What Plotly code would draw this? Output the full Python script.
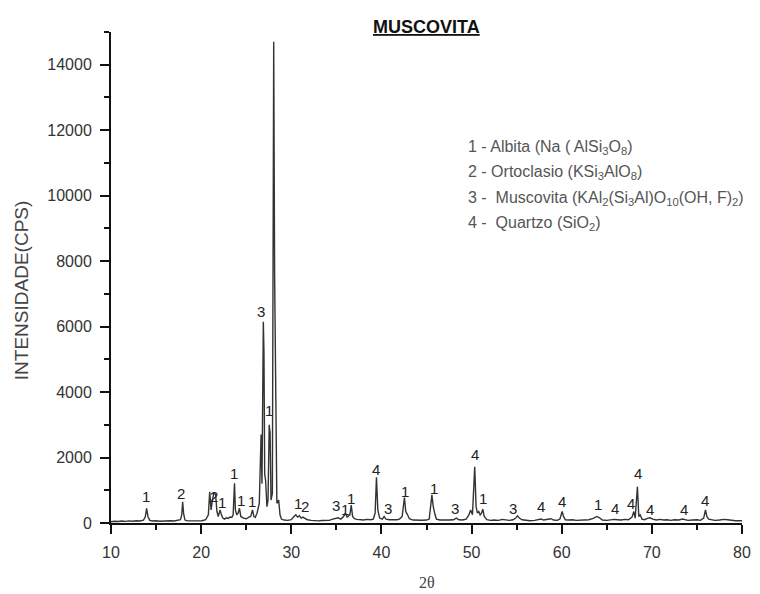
import plotly.graph_objects as go

# XRD pattern (2-theta in degrees, intensity in counts per second)
two_theta = [
    10.0, 10.4, 10.8, 11.2, 11.6, 12.0, 12.4, 12.8, 13.2, 13.6,
    13.8, 13.95, 14.1, 14.3,
    14.6, 15.0, 15.4, 15.8, 16.2, 16.6, 17.0, 17.4, 17.7,
    17.85, 17.95, 18.05, 18.2,
    18.5, 18.9, 19.3, 19.7, 20.1, 20.5, 20.8,
    20.95, 21.1, 21.25, 21.4, 21.6, 21.75, 21.9, 22.1, 22.25, 22.4,
    22.6, 22.8, 23.0, 23.2, 23.4, 23.55, 23.7, 23.8, 23.95, 24.1,
    24.25, 24.4, 24.7, 25.0, 25.3, 25.5, 25.7, 25.85, 26.0,
    26.2, 26.45, 26.65, 26.75, 26.9, 26.97, 27.05, 27.15, 27.3, 27.42,
    27.55, 27.65, 27.75, 27.9, 28.05, 28.15, 28.28, 28.4, 28.6, 28.75,
    28.9, 29.2, 29.6, 30.0, 30.3, 30.5, 30.7, 30.9, 31.1, 31.3,
    31.5, 31.8, 32.2, 32.6, 33.0, 33.4, 33.8, 34.2, 34.6, 34.9,
    35.2, 35.5, 35.8, 36.0, 36.2, 36.5, 36.65, 36.8, 37.0, 37.3,
    37.6, 38.0, 38.4, 38.8, 39.1, 39.3, 39.45, 39.6, 39.8, 40.1,
    40.3, 40.5, 40.9, 41.3, 41.7, 42.0, 42.3, 42.55, 42.7, 42.9,
    43.1, 43.5, 44.0, 44.5, 45.0, 45.3, 45.6, 45.75, 45.95, 46.1,
    46.5, 47.0, 47.5, 48.0, 48.3, 48.6, 49.0, 49.4, 49.7, 49.9,
    50.1, 50.35, 50.5, 50.65, 50.8, 50.95, 51.1, 51.25, 51.4, 51.7,
    52.1, 52.5, 53.0, 53.4, 53.8, 54.2, 54.6, 54.9, 55.1, 55.3,
    55.6, 56.0, 56.5, 57.0, 57.4, 57.7, 58.0, 58.4, 58.8, 59.1,
    59.5, 59.8, 60.05, 60.2, 60.4, 60.8, 61.2, 61.6, 62.0, 62.5,
    63.0, 63.5, 63.9, 64.2, 64.5, 65.0, 65.4, 65.8, 66.2, 66.6,
    67.0, 67.4, 67.8, 68.0, 68.15, 68.4, 68.55, 68.7, 68.9, 69.2,
    69.5, 69.8, 70.1, 70.5, 70.9, 71.3, 71.7, 72.1, 72.5, 73.0,
    73.4, 73.7, 74.0, 74.5, 75.0, 75.4, 75.75, 75.95, 76.1, 76.3,
    76.7, 77.0, 77.5, 78.0, 78.4, 78.8, 79.3, 80.0,
]
counts = [
    40, 55, 45, 60, 50, 65, 55, 70, 60, 90,
    180, 450, 200, 80,
    60, 70, 55, 65, 60, 70, 60, 75, 100,
    250, 650, 300, 90,
    65, 70, 60, 75, 70, 100, 250,
    950, 400, 700, 900, 880, 350, 200, 400, 250, 150,
    120, 160, 140, 180, 170, 250, 1210, 400, 250, 300,
    450, 200, 150, 130, 180, 200, 400, 200, 170,
    300, 600, 2700, 1200, 6150, 5200, 1500, 1300, 500, 700,
    3000, 2750, 700, 900, 14700, 7600, 2700, 600, 700, 250,
    120, 90, 80, 100, 200, 250, 180, 220, 150, 180,
    140, 100, 80, 70, 65, 75, 70, 80, 120, 150,
    160, 120, 200, 300, 180, 250, 550, 200, 130, 110,
    100, 90, 110, 100, 120, 300, 1400, 400, 150, 120,
    200, 120, 100, 90, 100, 120, 200, 780, 350, 250,
    130, 90, 80, 85, 90, 120, 860, 500, 250, 120,
    90, 80, 90, 100, 150, 100, 90, 120, 250, 400,
    250, 1720, 500, 300, 350, 250, 300, 420, 200, 100,
    80, 90, 80, 110, 90, 80, 100, 150, 220, 150,
    100, 80, 70, 80, 110, 120, 90, 100, 130, 90,
    80, 120, 350, 200, 100, 90, 100, 80, 90, 80,
    100, 140, 200, 160, 90, 80, 100, 110, 100, 90,
    110, 100, 180, 350, 150, 1110, 200, 250, 120, 100,
    140, 160, 120, 90, 110, 90, 100, 80, 100, 90,
    120, 110, 80, 90, 100, 80, 150, 400, 200, 120,
    90, 80, 90, 110, 100, 80, 70, 70,
]

# Phase markers above the peaks (1 Albita, 2 Ortoclasio, 3 Muscovita, 4 Quartzo)
label_x = [13.85, 17.8, 21.4, 22.3, 23.6, 24.45, 25.6, 26.6, 27.5, 28.05,
           30.7, 31.5, 34.95, 35.95, 36.6, 39.35, 40.7, 42.65, 45.8, 48.2,
           50.4, 51.3, 54.6, 57.7, 60.0, 64.0, 65.9, 67.7, 68.45, 69.75,
           73.55, 75.9]
label_y = [800, 900, 800, 620, 1520, 700, 650, 6450, 3450, 15150,
           600, 500, 550, 420, 760, 1620, 450, 960, 1060, 450,
           2080, 760, 430, 500, 650, 560, 450, 600, 1520, 420,
           420, 700]
label_text = ["1", "2", "2", "1", "1", "1", "1", "3", "1", "1",
              "1", "2", "3", "1", "1", "4", "3", "1", "1", "3",
              "4", "1", "3", "4", "4", "1", "4", "4", "4", "4",
              "4", "4"]

legend_lines = [
    "1 - Albita (Na ( AlSi<sub>3</sub>O<sub>8</sub>)",
    "2 - Ortoclasio (KSi<sub>3</sub>AlO<sub>8</sub>)",
    "3 -  Muscovita (KAl<sub>2</sub>(Si<sub>3</sub>Al)O<sub>10</sub>(OH, F)<sub>2</sub>)",
    "4 -  Quartzo (SiO<sub>2</sub>)",
]

x_ticks = [10, 20, 30, 40, 50, 60, 70, 80]
y_ticks = [0, 2000, 4000, 6000, 8000, 10000, 12000, 14000]
y_tick_text = [str(v) for v in y_ticks]

SANS = "Liberation Sans, Arial, sans-serif"

fig = go.Figure()
fig.add_trace(go.Scatter(
    x=two_theta, y=counts, mode="lines",
    line=dict(color="#333333", width=1.4),
    hoverinfo="skip", showlegend=False,
))

annotations = []
for lx, ly, lt in zip(label_x, label_y, label_text):
    annotations.append(dict(
        x=lx, y=ly, xref="x", yref="y", text=lt, showarrow=False,
        font=dict(family=SANS, size=15, color="#222"),
        xanchor="center", yanchor="middle",
    ))

for i, line in enumerate(legend_lines):
    annotations.append(dict(
        x=0.563, y=0.7645 - i * 0.0515, xref="paper", yref="paper",
        text=line, showarrow=False, xanchor="left", yanchor="middle",
        font=dict(family=SANS, size=16, color="#555"),
    ))

annotations.append(dict(
    x=0.5, y=1.011, xref="paper", yref="paper",
    text="<u><b>MUSCOVITA</b></u>", showarrow=False,
    xanchor="center", yanchor="middle",
    font=dict(family=SANS, size=18, color="#111"),
))
annotations.append(dict(
    x=0.5, y=-0.122, xref="paper", yref="paper", text="2θ", showarrow=False,
    xanchor="center", yanchor="middle",
    font=dict(family="Liberation Serif, DejaVu Serif, serif", size=16, color="#444"),
))
annotations.append(dict(
    x=-0.142, y=0.473, xref="paper", yref="paper", text="INTENSIDADE(CPS)",
    showarrow=False, textangle=-90, xanchor="center", yanchor="middle",
    font=dict(family=SANS, size=19, color="#444"),
))

axis_common = dict(
    showgrid=False, zeroline=False, showline=True, linecolor="#111",
    linewidth=2, ticks="outside", ticklen=9, tickwidth=2, tickcolor="#111",
    tickfont=dict(family=SANS, size=16, color="#333"),
    ticklabelstandoff=5,
)

fig.update_layout(
    width=760, height=594,
    margin=dict(l=111, r=9, t=32, b=71),
    paper_bgcolor="white", plot_bgcolor="white",
    xaxis=dict(range=[10, 80], tickvals=x_ticks,
               minor=dict(dtick=5, ticks="outside", ticklen=5, tickwidth=2, tickcolor="#111"),
               **axis_common),
    yaxis=dict(range=[0, 15000], tickvals=y_ticks, ticktext=y_tick_text,
               minor=dict(dtick=1000, ticks="outside", ticklen=5, tickwidth=2, tickcolor="#111"),
               **axis_common),
    annotations=annotations,
)

fig.write_html("out.html")
